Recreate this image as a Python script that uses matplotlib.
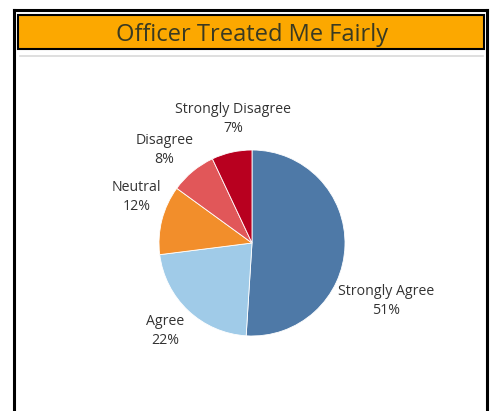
import matplotlib
matplotlib.use("Agg")
import matplotlib.pyplot as plt
from matplotlib.patches import Rectangle
from matplotlib.lines import Line2D

categories = ["Strongly Agree", "Agree", "Neutral", "Disagree", "Strongly Disagree"]
values = [51, 22, 12, 8, 7]
colors = ["#4e79a7", "#a0cbe8", "#f28e2b", "#e15759", "#b8001f"]
title = "Officer Treated Me Fairly"

W, H = 492, 411
fig = plt.figure(figsize=(W / 100, H / 100), dpi=100)
fig.patch.set_facecolor("white")

# frame axes in pixel coords (y from top)
fr = fig.add_axes([0, 0, 1, 1])
fr.set_xlim(0, W)
fr.set_ylim(H, 0)
fr.axis("off")
# outer border (open at bottom)
lw_out = 2.2
fr.add_line(Line2D([14, 14], [H + 5, 10], color="black", lw=lw_out, solid_capstyle="projecting"))
fr.add_line(Line2D([14, 487], [10, 10], color="black", lw=lw_out, solid_capstyle="projecting"))
fr.add_line(Line2D([487, 487], [10, H + 5], color="black", lw=lw_out, solid_capstyle="projecting"))
# orange title bar
fr.add_patch(Rectangle((18, 15), 466, 34, facecolor="#fca800", edgecolor="black", lw=1.5))
fr.text(252, 35, title, ha="center", va="center", fontsize=17,
        family="Open Sans", color="#3a3a22")
# thin gray separator
fr.add_line(Line2D([20, 483], [56.5, 56.5], color="#d9d9d9", lw=1.2))

# pie axes
cx, cy, R = 252, 243, 93
ax = fig.add_axes([(cx - R) / W, 1 - (cy + R) / H, 2 * R / W, 2 * R / H])
ax.pie(values, colors=colors, startangle=90, counterclock=False,
       wedgeprops=dict(linewidth=0.6, edgecolor="white"))
ax.set_xlim(-1, 1)
ax.set_ylim(-1, 1)
ax.set_aspect("auto")
ax.axis("off")

# label placement (radius units relative to pie center)
label_pos = [(1.44, -0.62), (-0.93, -0.95), (-1.24, 0.495), (-0.94, 1.0), (-0.20, 1.33)]
for name, v, (lx, ly) in zip(categories, values, label_pos):
    ax.text(lx, ly, f"{name}\n{v}%", ha="center", va="center", fontsize=10.2,
            family="Open Sans", color="#333333", linespacing=1.34, clip_on=False)

fig.savefig("out.png", dpi=100, facecolor="white")
